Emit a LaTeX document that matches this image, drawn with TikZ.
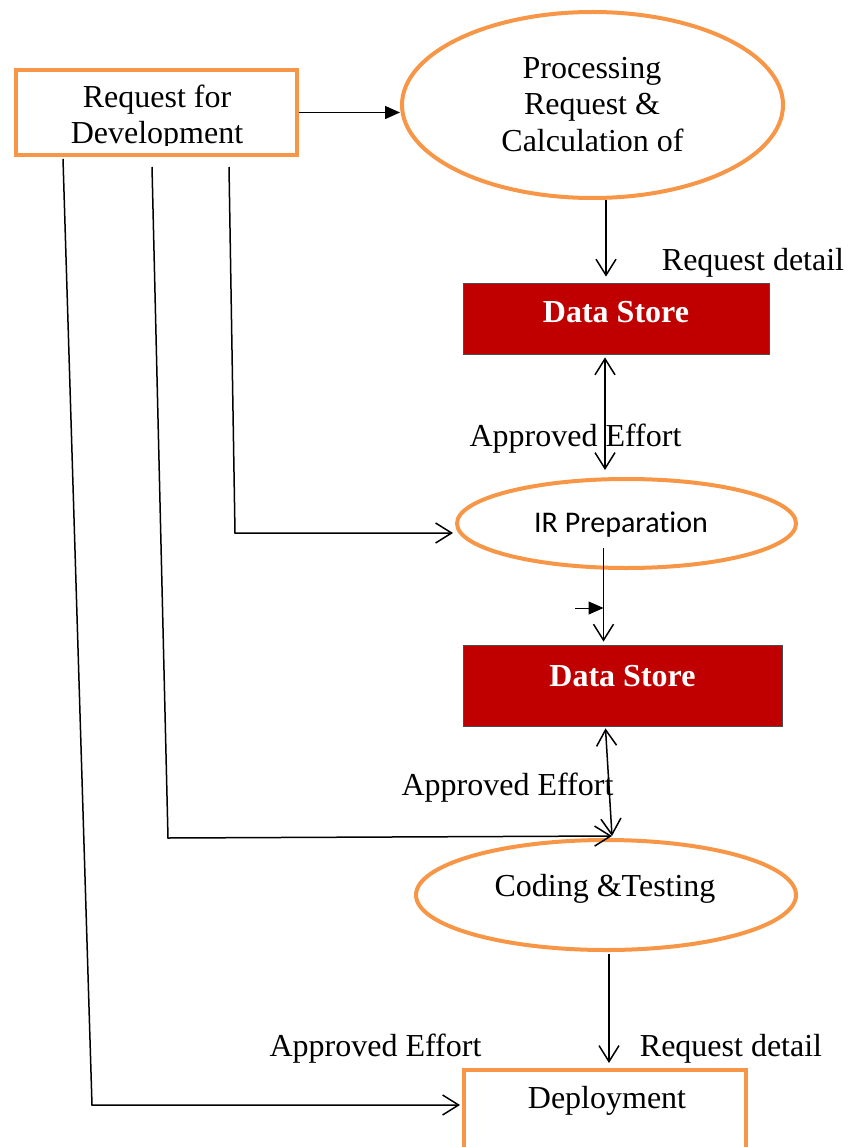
\documentclass[tikz,border=0pt]{standalone}
\usepackage{fontspec}
\setmainfont{Liberation Serif}
\newfontfamily\irfont[Ligatures=NoCommon]{Carlito}
\usetikzlibrary{shapes.geometric,arrows.meta,calc}
\definecolor{borange}{HTML}{F79646}
\definecolor{dsred}{HTML}{C00000}
\begin{document}
\begin{tikzpicture}[x=1pt,y=-1pt,
  txt/.style={font=\fontsize{32}{36}\selectfont, inner sep=0pt, anchor=base},
  dstxt/.style={font=\fontsize{32}{36}\selectfont\bfseries, text=white, inner sep=0pt, anchor=base},
  irtxt/.style={font=\irfont\fontsize{30}{34}\selectfont, inner sep=0pt, anchor=base},
  obox/.style={draw=borange, line width=4pt, fill=white, rectangle, inner sep=0pt},
  oell/.style={draw=borange, line width=4pt, ellipse, inner sep=0pt},
  dstore/.style={draw=black!70, line width=0.8pt, fill=dsred, rectangle, inner sep=0pt},
  conn/.style={line width=1.5pt, black},
  barb/.style={-{Straight Barb[length=16pt,width=20pt,line width=1.5pt]}},
  dbarb/.style={{Straight Barb[length=16pt,width=20pt,line width=1.5pt]}-{Straight Barb[length=16pt,width=20pt,line width=1.5pt]}},
  tri/.style={-{Triangle[length=15pt,width=13pt]}}
]
\useasboundingbox (0,0) rectangle (847,1147);
\clip (0,0) rectangle (847,1147);

% shapes
\node[obox, minimum width=281pt, minimum height=85pt] (req) at (156.5,112.5) {};
\begin{scope}
  \clip (18,72) rectangle (295,145.5);
  \node[txt] (reqt1) at (157,108) {Request for};
  \node[txt] (reqt2) at (157,144) {Development};
\end{scope}

\node[oell, minimum width=381pt, minimum height=186pt] (proc) at (592.5,105) {};
\node[txt] (proct1) at (592,79) {Processing};
\node[txt] (proct2) at (592,115) {Request \&};
\node[txt] (proct3) at (592.5,152) {Calculation of};

\node[dstore, minimum width=306pt, minimum height=71pt] (ds1) at (616,318.5) {};
\node[dstxt] (ds1t) at (616,322) {Data Store};

\node[oell, minimum width=339pt, minimum height=89pt] (ir) at (626.5,523.5) {};
\node[irtxt] (irt) at (621,532) {IR Preparation};

\node[dstore, minimum width=319pt, minimum height=81pt] (ds2) at (622.5,685.5) {};
\node[dstxt] (ds2t) at (622.5,686) {Data Store};

\node[oell, minimum width=380pt, minimum height=110pt] (cod) at (606,895) {};
\node[txt] (codt) at (605,896) {Coding \&Testing};

\node[obox, minimum width=282pt, minimum height=100pt] (dep) at (605,1120) {};
\node[txt] (dept) at (607,1108) {Deployment};

% labels
\node[txt] (lab1) at (753,271) {Request detail};
\node[txt] (lab2) at (575.5,446) {Approved Effort};
\node[txt] (lab3) at (507.5,795) {Approved Effort};
\node[txt] (lab4) at (375.5,1056) {Approved Effort};
\node[txt] (lab5) at (731,1056) {Request detail};

% connectors
\draw[conn, tri] (req.east) -- (req.east -| proc.west);
\draw[conn, barb] ($(proc.south)+(13.5,0)$) -- ($(ds1.north)+(-10,-6)$);
\draw[conn, dbarb] ($(ds1.south)+(-11,3)$) -- ($(ir.north)+(-21.5,-7)$);
\coordinate (irout) at ($(ir.center)+(-23,24)$);
\coordinate (ds2in) at ($(ds2.north)+(-19,-3)$);
\draw[conn, barb] (irout) -- (ds2in);
\coordinate (sa) at (575,608);
\draw[line width=1pt, tri] (sa) -- (sa -| ds2in);
\draw[conn, dbarb] ($(ds2.south)+(-17,2)$) -- ($(cod.north)+(6,-2)$);
\draw[conn, barb] ($(cod.south)+(3,2)$) -- ($(dep.north)+(4,-5)$);

% lines from Request for Development
\coordinate (l1s) at ($(req.south)+(72.5,10)$);
\coordinate (l1c) at (235,533);
\draw[conn, barb] (l1s) -- (l1c) -- ($(ir.west)+(-2,9.5)$);
\coordinate (l2s) at ($(req.south)+(-4.5,10)$);
\coordinate (l2c) at (168,838);
\draw[conn, barb] (l2s) -- (l2c) -- ($(cod.north)+(6,-2)$);
\coordinate (l3s) at ($(req.south)+(-93.5,2)$);
\coordinate (l3c) at (92,1105);
\draw[conn, barb] (l3s) -- (l3c) -- ($(l3c -| dep.west)+(-2,0)$);
\end{tikzpicture}
\end{document}
